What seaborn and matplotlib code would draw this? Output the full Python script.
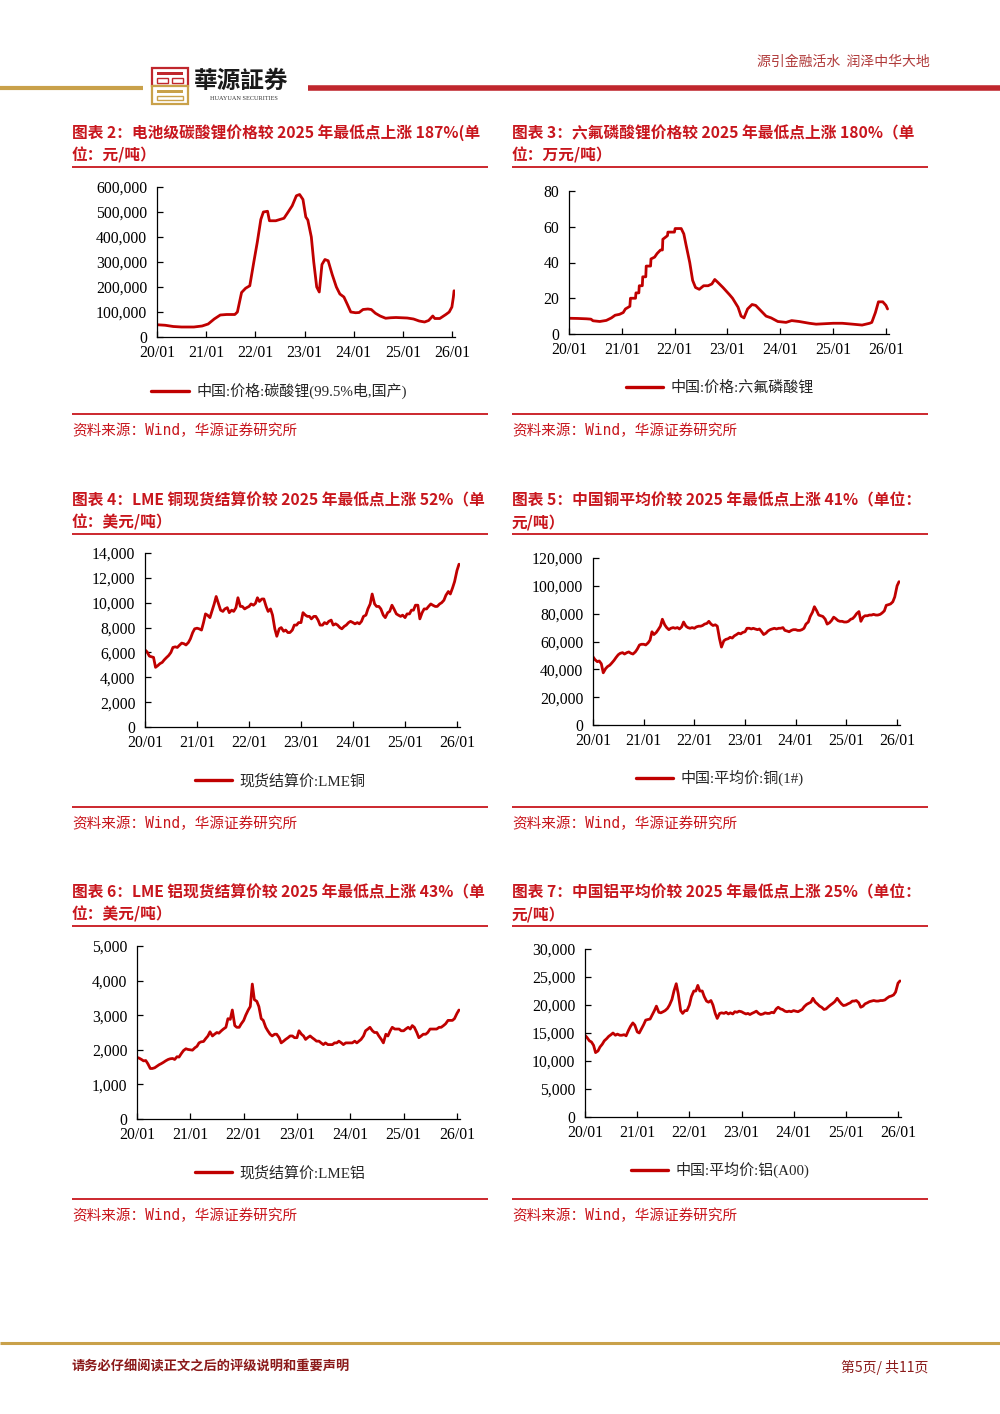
import numpy as np
import pandas as pd
import matplotlib
matplotlib.use('Agg')
import matplotlib.pyplot as plt
import matplotlib.dates as mdates
from matplotlib.ticker import FuncFormatter
from matplotlib.patches import Rectangle
from matplotlib.lines import Line2D
import seaborn as sns

sns.set_theme(style='ticks')
plt.rcParams['font.family'] = ['Liberation Serif', 'Noto Sans CJK SC']
plt.rcParams['axes.unicode_minus'] = False

W, H = 1000, 1414
RED = '#C00000'
TITLE_RED = '#C8161D'
GOLD = '#C9A14A'
CJK = ['Noto Sans CJK SC', 'DejaVu Sans']

# ---- chart 2: battery-grade lithium carbonate, yuan/t ----
li2co3_dates = [
    '2020-01-01', '2020-03-01', '2020-05-01', '2020-07-01', '2020-10-01', '2020-12-01',
    '2021-01-15', '2021-03-01', '2021-04-15', '2021-06-01', '2021-08-01', '2021-08-20',
    '2021-09-20', '2021-10-20', '2021-11-20', '2021-12-20', '2022-01-15', '2022-02-10',
    '2022-03-01', '2022-04-01', '2022-04-15', '2022-06-01', '2022-07-01', '2022-08-01',
    '2022-09-01', '2022-10-01', '2022-11-01', '2022-11-25', '2022-12-20', '2023-01-10',
    '2023-01-25', '2023-02-20', '2023-03-10', '2023-04-01', '2023-04-20', '2023-05-10',
    '2023-06-01', '2023-06-25', '2023-07-25', '2023-08-25', '2023-09-20', '2023-10-20',
    '2023-11-15', '2023-12-10', '2024-01-15', '2024-02-10', '2024-03-10', '2024-04-15',
    '2024-05-10', '2024-06-10', '2024-07-15', '2024-08-25', '2024-10-01', '2024-11-10',
    '2024-12-20', '2025-02-01', '2025-03-20', '2025-05-01', '2025-06-10', '2025-07-10',
    '2025-08-10', '2025-08-25', '2025-10-01', '2025-11-15', '2025-12-10', '2025-12-30',
    '2026-01-10', '2026-01-15']
li2co3_values = [
    49000, 47000, 42000, 40000, 40000, 44000,
    52000, 72000, 88000, 90000, 90000, 100000,
    178000, 195000, 205000, 300000, 380000, 470000,
    500000, 503000, 465000, 465000, 470000, 475000,
    500000, 525000, 565000, 570000, 550000, 480000,
    468000, 400000, 300000, 200000, 180000, 290000,
    310000, 305000, 250000, 200000, 172000, 160000,
    130000, 100000, 97000, 98000, 110000, 112000,
    110000, 95000, 84000, 75000, 77000, 78000,
    77000, 76000, 72000, 64000, 60000, 66000,
    84000, 74000, 74000, 90000, 100000, 120000,
    160000, 185000]

# ---- chart 3: LiPF6, 10k yuan/t ----
lipf6_dates = [
    '2020-01-01', '2020-03-01', '2020-05-01', '2020-06-01', '2020-06-15', '2020-08-01',
    '2020-09-15', '2020-10-20', '2020-11-15', '2020-12-15', '2021-01-10', '2021-01-25',
    '2021-02-25', '2021-03-01', '2021-04-05', '2021-04-08', '2021-04-28', '2021-05-01',
    '2021-05-22', '2021-05-25', '2021-06-15', '2021-06-18', '2021-07-18', '2021-07-21',
    '2021-08-15', '2021-09-01', '2021-09-25', '2021-10-08', '2021-10-11', '2021-11-12',
    '2021-11-15', '2021-12-30', '2022-01-04', '2022-02-15', '2022-03-05', '2022-03-20',
    '2022-04-15', '2022-05-05', '2022-05-25', '2022-06-20', '2022-07-20', '2022-08-20',
    '2022-09-15', '2022-10-05', '2022-10-25', '2022-12-01', '2023-01-15', '2023-02-05',
    '2023-03-15', '2023-04-05', '2023-04-25', '2023-05-20', '2023-06-20', '2023-07-15',
    '2023-08-20', '2023-09-25', '2023-10-30', '2023-12-15', '2024-02-10', '2024-03-20',
    '2024-05-10', '2024-07-20', '2024-09-05', '2025-01-01', '2025-03-05', '2025-05-15',
    '2025-07-20', '2025-09-10', '2025-09-25', '2025-10-20', '2025-11-10', '2025-12-10',
    '2026-01-01', '2026-01-12']
lipf6_values = [
    8.8, 8.7, 8.5, 8.3, 7.4, 7.0,
    7.6, 9.0, 10.5, 11.0, 12.0, 14.0,
    15.5, 20.0, 20.0, 23.0, 23.0, 27.0,
    27.0, 32.0, 32.0, 38.0, 38.0, 42.0,
    43.0, 45.0, 47.0, 47.0, 53.0, 55.0,
    57.0, 57.0, 59.0, 59.0, 56.0, 50.0,
    40.0, 30.0, 26.0, 25.0, 27.0, 27.0,
    28.0, 30.5, 29.0, 26.0, 22.0, 20.0,
    15.0, 10.0, 9.0, 14.0, 16.5, 16.0,
    13.0, 10.0, 9.0, 7.0, 6.5, 7.5,
    7.0, 6.0, 5.5, 6.0, 6.0, 5.5,
    5.0, 6.0, 6.5, 12.0, 18.0, 18.0,
    16.0, 14.0]

# ---- metals: readings on the 1st and 15th of each month, 2020-01 .. 2026-01 ----
lme_cu = [
    6200, 6050, 5700, 5650, 5600, 4800, 4950, 5100, 5200, 5400, 5600, 5750,
    6000, 6400, 6450, 6400, 6600, 6750, 6700, 6600, 6800, 7100, 7600, 7900,
    7950, 7900, 7800, 8400, 9100, 9000, 8800, 9300, 9900, 10500, 9900, 9400,
    9300, 9500, 9600, 9200, 9400, 9300, 9600, 10400, 9700, 9700, 9500, 9600,
    9700, 9900, 9800, 9950, 10400, 10100, 10300, 10300, 9700, 9300, 9500, 9000,
    7900, 7300, 7900, 8000, 7700, 7800, 7600, 7600, 7800, 8200, 8200, 8400,
    8400, 9200, 9000, 8900, 8900, 8700, 8900, 8900, 8600, 8200, 8200, 8400,
    8300, 8500, 8600, 8200, 8300, 8200, 8000, 7900, 8100, 8200, 8400, 8500,
    8400, 8300, 8400, 8300, 8500, 8900, 9000, 9500, 9900, 10700, 9900, 9700,
    9700, 9500, 9000, 8800, 9200, 9300, 9800, 9500, 9100, 9000, 8900, 9000,
    8800, 9100, 9100, 9400, 9400, 9800, 9800, 8700, 9200, 9500, 9500, 9700,
    9900, 9800, 9700, 9700, 9900, 10000, 10200, 10600, 10900, 10700, 11200, 11700,
    12600, 13100]

cn_cu = [
    49000, 47000, 45500, 46000, 44000, 37500, 40500, 42000, 43000, 44500, 46500, 48500,
    50500, 51500, 52000, 51000, 52000, 52500, 51500, 51000, 52500, 54500, 57500, 58000,
    58000, 57500, 59000, 61000, 67000, 65000, 66500, 68500, 71000, 76000, 72000, 70000,
    68500, 69500, 70000, 69500, 70000, 69000, 70500, 74000, 71000, 70000, 69500, 70000,
    69500, 70500, 71000, 71000, 71500, 72500, 73000, 74500, 72500, 71500, 72000, 71000,
    62000, 56000, 60500, 61500, 62000, 63000, 62500, 64000, 65000, 66000, 65500, 66500,
    67000, 69500, 69500, 69000, 69500, 69000, 68500, 69000, 67000, 65000, 66000, 67500,
    68500, 69000, 69500, 69000, 69500, 69500, 70000, 68000, 67500, 67000, 68000, 68500,
    68500, 68000, 68000, 68500, 69500, 72500, 74000, 78000, 81000, 85000, 82000, 79000,
    78500, 78000, 76000, 72500, 73500, 75000, 77500, 76500, 75000, 74500, 74500, 74000,
    74000, 74500, 76000, 76500, 78000, 80000, 81500, 74500, 77500, 78500, 78500, 79000,
    79000, 79500, 79000, 79000, 79500, 80500, 82000, 86000, 86500, 87000, 88500, 92000,
    100000, 103000]

lme_al = [
    1780, 1760, 1720, 1680, 1690, 1600, 1460, 1460, 1480, 1520, 1570, 1600,
    1640, 1680, 1720, 1740, 1750, 1720, 1800, 1790, 1900, 1980, 2030, 2010,
    2000, 1990, 2060, 2100, 2200, 2230, 2240, 2320, 2400, 2520, 2400, 2450,
    2500, 2480, 2550, 2600, 2650, 2900, 2880, 3150, 2700, 2650, 2650, 2750,
    2850, 3000, 3150, 3250, 3900, 3450, 3400, 3250, 2900, 2850, 2650, 2550,
    2450, 2400, 2450, 2450, 2350, 2200, 2250, 2300, 2350, 2400, 2400, 2350,
    2350, 2550, 2450, 2400, 2300, 2350, 2400, 2350, 2300, 2250, 2250, 2200,
    2150, 2200, 2150, 2150, 2150, 2200, 2200, 2250, 2200, 2150, 2200, 2200,
    2200, 2200, 2250, 2200, 2250, 2300, 2400, 2550, 2600, 2650, 2550, 2500,
    2500, 2400, 2300, 2200, 2450, 2400, 2550, 2650, 2600, 2600, 2600, 2550,
    2550, 2600, 2650, 2600, 2700, 2650, 2500, 2350, 2400, 2450, 2450, 2500,
    2600, 2600, 2600, 2600, 2650, 2650, 2700, 2750, 2850, 2850, 2850, 2900,
    3050, 3150]

cn_al = [
    14600, 14200, 13600, 13400, 12800, 11500, 11800, 12500, 13000, 13600, 14000, 14400,
    14700, 15000, 14600, 14800, 14600, 14600, 14700, 14500, 15500, 16200, 16800, 16400,
    15200, 15000, 15800, 16500, 17300, 17400, 17500, 18200, 19000, 19800, 18700, 18600,
    18800, 19000, 19400, 20000, 21000, 22500, 23800, 22000, 19000, 18500, 19000, 19000,
    20000, 21500, 22500, 22500, 23500, 22500, 22500, 21500, 20700, 20500, 20800, 20000,
    18500, 17600, 18500, 18600, 18500, 18700, 18400, 18600, 18400, 18800, 18700, 18900,
    18800, 18600, 18400, 18500, 18300, 18500, 18700, 18900, 18500, 18300, 18400, 18600,
    18500, 18500, 18700, 18600, 19300, 19600, 19300, 19200, 18900, 18800, 18900, 18800,
    19000, 18900, 18800, 19000, 19200, 19700, 20100, 20300, 20500, 21200, 20500, 20200,
    19800, 19600, 19200, 19300, 19700, 20000, 20300, 20600, 21200, 20700, 20200, 19900,
    20000, 20200, 20400, 20700, 20700, 20800, 20400, 19600, 19800, 20200, 20400, 20600,
    20700, 20800, 20700, 20700, 20800, 20800, 20900, 21200, 21500, 21600, 21800, 22300,
    23900, 24300]

titles = {
    2: ('图表 2：电池级碳酸锂价格较 2025 年最低点上涨 187%(单', '位：元/吨）'),
    3: ('图表 3：六氟磷酸锂价格较 2025 年最低点上涨 180%（单', '位：万元/吨）'),
    4: ('图表 4：LME 铜现货结算价较 2025 年最低点上涨 52%（单', '位：美元/吨）'),
    5: ('图表 5：中国铜平均价较 2025 年最低点上涨 41%（单位：', '元/吨）'),
    6: ('图表 6：LME 铝现货结算价较 2025 年最低点上涨 43%（单', '位：美元/吨）'),
    7: ('图表 7：中国铝平均价较 2025 年最低点上涨 25%（单位：', '元/吨）'),
}
legend_labels = {
    2: '中国:价格:碳酸锂(99.5%电,国产)',
    3: '中国:价格:六氟磷酸锂',
    4: '现货结算价:LME铜',
    5: '中国:平均价:铜(1#)',
    6: '现货结算价:LME铝',
    7: '中国:平均价:铝(A00)',
}
source_text = '资料来源：Wind，华源证券研究所'


def semi_monthly(values):
    dates = pd.date_range('2020-01-01', periods=len(values), freq='SMS')
    return pd.DataFrame({'date': dates, 'value': values})


def dated(dates, values):
    return pd.DataFrame({'date': pd.to_datetime(dates), 'value': values})


fig = plt.figure(figsize=(10, 14.14), dpi=100)


def px_axes(l, t, r, b):
    return fig.add_axes([l / W, 1 - b / H, (r - l) / W, (b - t) / H])


def ftext(x, y, s, **kw):
    fig.text(x / W, 1 - y / H, s, **kw)


def hline(x0, x1, y, lw, color):
    fig.add_artist(Line2D([x0 / W, x1 / W], [1 - y / H, 1 - y / H], lw=lw,
                          color=color, transform=fig.transFigure,
                          solid_capstyle='butt'))


def frect(x, y, w, h, **kw):
    fig.add_artist(Rectangle((x / W, 1 - (y + h) / H), w / W, h / H,
                             transform=fig.transFigure, **kw))


def draw_chart(num, df, box, ymax, ystep, legend_xy, lw):
    ax = px_axes(*box)
    sns.lineplot(data=df, x='date', y='value', ax=ax, color=RED, lw=lw,
                 legend=False)
    ax.set_xlim(pd.Timestamp('2020-01-01'), pd.Timestamp('2026-01-22'))
    ax.set_ylim(0, ymax)
    ax.set_yticks(np.arange(0, ymax + ystep / 2, ystep))
    ax.yaxis.set_major_formatter(FuncFormatter(lambda v, p: f'{v:,.0f}'))
    ax.xaxis.set_major_locator(mdates.YearLocator())
    ax.xaxis.set_major_formatter(mdates.DateFormatter('%y/%m'))
    ax.tick_params(direction='in', length=4.5, width=0.9, labelsize=11.3,
                   colors='black', pad=6)
    ax.tick_params(axis='y', pad=7)
    for s in ['top', 'right']:
        ax.spines[s].set_visible(False)
    for s in ['left', 'bottom']:
        ax.spines[s].set_color('black')
        ax.spines[s].set_linewidth(0.9)
    ax.set_xlabel('')
    ax.set_ylabel('')
    ax.grid(False)
    ax.patch.set_alpha(0)
    for lab in ax.get_xticklabels() + ax.get_yticklabels():
        lab.set_fontfamily('Liberation Serif')
    handle = Line2D([], [], color=RED, lw=2.4)
    fig.legend([handle], [legend_labels[num]], loc='center',
               bbox_to_anchor=(legend_xy[0] / W, 1 - legend_xy[1] / H),
               frameon=False, handlelength=2.5, handletextpad=0.5,
               prop={'family': ['Liberation Serif', 'Noto Sans CJK SC'], 'size': 10.8})
    return ax


def frame(num, col, row_top):
    # two title lines and the red rule under them
    x0 = 72 if col == 0 else 512
    x1 = x0 + 416
    l1, l2 = titles[num]
    ftext(x0, row_top, l1, fontsize=11.3, fontweight='bold', color=TITLE_RED,
          family=CJK, va='center', ha='left')
    ftext(x0, row_top + 22, l2, fontsize=11.3, fontweight='bold', color=TITLE_RED,
          family=CJK, va='center', ha='left')
    hline(x0, x1, row_top + 34, 1.3, TITLE_RED)


# ---- header ----
hline(0, 143, 88, 3.0, GOLD)
hline(308, 1000, 88, 4.0, '#C0272D')
ftext(930, 62, '源引金融活水  润泽中华大地', fontsize=10, color='#B03A3A',
      family=CJK, ha='right', va='center')
# logo mark
frect(152, 68, 36, 18, facecolor='white', edgecolor='#C0272D', lw=1.6)
frect(157, 72, 26, 3, facecolor='#C0272D', edgecolor='none')
frect(157, 78, 11, 5, facecolor='none', edgecolor='#C0272D', lw=1.0)
frect(172, 78, 11, 5, facecolor='none', edgecolor='#C0272D', lw=1.0)
frect(152, 86, 36, 18, facecolor='white', edgecolor=GOLD, lw=1.6)
frect(157, 90, 26, 3, facecolor=GOLD, edgecolor='none')
frect(157, 96, 26, 4, facecolor='none', edgecolor=GOLD, lw=1.0)
ftext(194, 81, '華源証券', fontsize=17, fontweight='bold', color='#1A1A1A',
      family=['Noto Sans CJK TC', 'Noto Sans CJK SC'], ha='left', va='center')
ftext(244, 99, 'HUAYUAN SECURITIES', fontsize=4.5, color='#333333',
      family='Liberation Serif', ha='center', va='center')

# ---- panels ----
rows = [133, 500, 892]
src_y = [414, 807, 1199]
for r in range(3):
    for c in range(2):
        x0 = 72 if c == 0 else 512
        hline(x0, x0 + 416, src_y[r], 1.3, TITLE_RED)
        ftext(x0, src_y[r] + 17, source_text, fontsize=10.5, color=TITLE_RED,
              family=['DejaVu Sans Mono', 'Noto Sans CJK SC'], ha='left', va='center')

frame(2, 0, rows[0])
frame(3, 1, rows[0])
frame(4, 0, rows[1])
frame(5, 1, rows[1])
frame(6, 0, rows[2])
frame(7, 1, rows[2])

draw_chart(2, dated(li2co3_dates, li2co3_values), (157, 187, 455, 337),
           600000, 100000, (279, 391), 2.0)
draw_chart(3, dated(lipf6_dates, lipf6_values), (569, 191, 889, 334),
           80, 20, (720, 388), 2.0)
draw_chart(4, semi_monthly(lme_cu), (145, 553, 460, 727),
           14000, 2000, (280, 781), 2.0)
draw_chart(5, semi_monthly(cn_cu), (593, 558, 900, 725),
           120000, 20000, (720, 778), 2.0)
draw_chart(6, semi_monthly(lme_al), (137, 946, 460, 1119),
           5000, 1000, (280, 1173), 2.0)
draw_chart(7, semi_monthly(cn_al), (585, 949, 901, 1117),
           30000, 5000, (720, 1170), 2.0)

# ---- footer ----
hline(0, 1000, 1343, 2.2, GOLD)
ftext(72, 1367, '请务必仔细阅读正文之后的评级说明和重要声明', fontsize=9.5,
      fontweight='bold', color='#8B1A1A', family=CJK, ha='left', va='center')
ftext(928, 1367, '第5页/ 共11页', fontsize=10, color='#8B1A1A',
      family=CJK, ha='right', va='center')

fig.savefig('out.png', dpi=100, facecolor='white')
